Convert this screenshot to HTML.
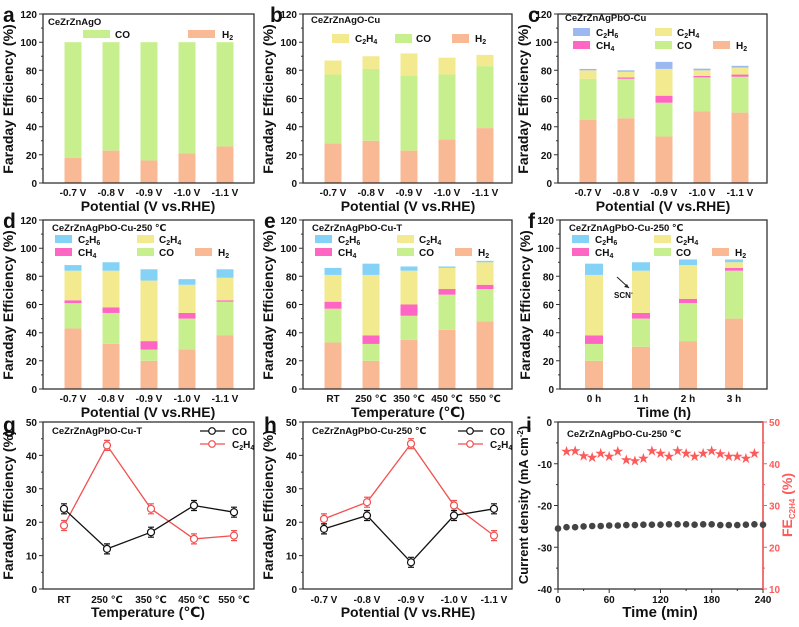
<!DOCTYPE html>
<html><head><meta charset="utf-8"><style>
body{margin:0;background:#fff}
text{font-family:"Liberation Sans","DejaVu Sans","Noto Sans CJK SC",sans-serif;font-weight:bold;fill:#111}
.t{font-size:10px}.lg{font-size:10px}.ti{font-size:9.5px}.ax{font-size:14px}.pl{font-size:21px}
.fr{fill:none;stroke:#333;stroke-width:1.3}
.H{fill:#f9b995}.C{fill:#c8ef8e}.E{fill:#f3e98e}.M{fill:#ff66c4}.S{fill:#84d2f6}.P{fill:#9cb8f0}
</style></head><body>
<svg width="799" height="622" viewBox="0 0 799 622" xmlns="http://www.w3.org/2000/svg">
<defs>
<g id="yt120">
<path d="M0 0H-4M0 -28.2H-4M0 -56.3H-4M0 -84.5H-4M0 -112.7H-4M0 -140.8H-4M0 -169H-4M0 -14.1H-2M0 -42.3H-2M0 -70.4H-2M0 -98.6H-2M0 -126.8H-2M0 -154.9H-2" stroke="#333" stroke-width="1"/>
<text class="t" x="-6" y="4" text-anchor="end">0</text>
<text class="t" x="-6" y="-24.2" text-anchor="end">20</text>
<text class="t" x="-6" y="-52.3" text-anchor="end">40</text>
<text class="t" x="-6" y="-80.5" text-anchor="end">60</text>
<text class="t" x="-6" y="-108.7" text-anchor="end">80</text>
<text class="t" x="-6" y="-136.8" text-anchor="end">100</text>
<text class="t" x="-6" y="-165" text-anchor="end">120</text>
<text class="ax" transform="translate(-30,-84) rotate(-90)" text-anchor="middle">Faraday Efficiency (%)</text>
</g>
<g id="pot">
<text class="t" x="30" y="13" text-anchor="middle">-0.7 V</text>
<text class="t" x="68" y="13" text-anchor="middle">-0.8 V</text>
<text class="t" x="106" y="13" text-anchor="middle">-0.9 V</text>
<text class="t" x="144" y="13" text-anchor="middle">-1.0 V</text>
<text class="t" x="182" y="13" text-anchor="middle">-1.1 V</text>
<text class="ax" x="105" y="28" text-anchor="middle">Potential (V vs.RHE)</text>
</g>
<g id="temp">
<text class="t" x="30" y="13" text-anchor="middle">RT</text>
<text class="t" x="68" y="13" text-anchor="middle">250 ℃</text>
<text class="t" x="106" y="13" text-anchor="middle">350 ℃</text>
<text class="t" x="144" y="13" text-anchor="middle">450 ℃</text>
<text class="t" x="182" y="13" text-anchor="middle">550 ℃</text>
<text class="ax" x="105" y="28" text-anchor="middle">Temperature (℃)</text>
</g>
<g id="leg5">
<rect x="12" y="0" width="17" height="8" class="S"/><text class="lg" x="35" y="8">C<tspan font-size="7" dy="2">2</tspan><tspan dy="-2">H</tspan><tspan font-size="7" dy="2">6</tspan></text>
<rect x="94" y="0" width="17" height="8" class="E"/><text class="lg" x="116" y="8">C<tspan font-size="7" dy="2">2</tspan><tspan dy="-2">H</tspan><tspan font-size="7" dy="2">4</tspan></text>
<rect x="12" y="13" width="17" height="8" class="M"/><text class="lg" x="35" y="21">CH<tspan font-size="7" dy="2">4</tspan></text>
<rect x="94" y="13" width="17" height="8" class="C"/><text class="lg" x="116" y="21">CO</text>
<rect x="152" y="13" width="17" height="8" class="H"/><text class="lg" x="175" y="21">H<tspan font-size="7" dy="2">2</tspan></text>
</g>
</defs>

<!-- a -->
<text class="pl" x="3" y="22">a</text>
<g transform="translate(43,183)">
<g transform="scale(1,-1.4083)">
<rect x="21.5" y="0" width="17" height="18" class="H"/><rect x="21.5" y="18" width="17" height="82" class="C"/>
<rect x="59.5" y="0" width="17" height="23" class="H"/><rect x="59.5" y="23" width="17" height="77" class="C"/>
<rect x="97.5" y="0" width="17" height="16" class="H"/><rect x="97.5" y="16" width="17" height="84" class="C"/>
<rect x="135.5" y="0" width="17" height="21" class="H"/><rect x="135.5" y="21" width="17" height="79" class="C"/>
<rect x="173.5" y="0" width="17" height="26" class="H"/><rect x="173.5" y="26" width="17" height="74" class="C"/>
</g>
<rect class="fr" x="0" y="-169" width="211" height="169"/>
<use href="#yt120"/><use href="#pot"/>
<text class="ti" x="5" y="-158">CeZrZnAgO</text>
<rect x="40" y="-153" width="27" height="8" class="C"/><text class="lg" x="72" y="-145">CO</text>
<rect x="145" y="-153" width="27" height="8" class="H"/><text class="lg" x="179" y="-145">H<tspan font-size="7" dy="2">2</tspan></text>
</g>

<!-- b -->
<text class="pl" x="270" y="22">b</text>
<g transform="translate(303,183)">
<g transform="scale(1,-1.4083)">
<rect x="21.5" y="0" width="17" height="28" class="H"/><rect x="21.5" y="28" width="17" height="49" class="C"/><rect x="21.5" y="77" width="17" height="10" class="E"/>
<rect x="59.5" y="0" width="17" height="30" class="H"/><rect x="59.5" y="30" width="17" height="51" class="C"/><rect x="59.5" y="81" width="17" height="9" class="E"/>
<rect x="97.5" y="0" width="17" height="23" class="H"/><rect x="97.5" y="23" width="17" height="53" class="C"/><rect x="97.5" y="76" width="17" height="16" class="E"/>
<rect x="135.5" y="0" width="17" height="31" class="H"/><rect x="135.5" y="31" width="17" height="46" class="C"/><rect x="135.5" y="77" width="17" height="12" class="E"/>
<rect x="173.5" y="0" width="17" height="39" class="H"/><rect x="173.5" y="39" width="17" height="44" class="C"/><rect x="173.5" y="83" width="17" height="8" class="E"/>
</g>
<rect class="fr" x="0" y="-169" width="209" height="169"/>
<use href="#yt120"/><use href="#pot"/>
<text class="ti" x="8" y="-160">CeZrZnAgO-Cu</text>
<rect x="29" y="-149" width="17" height="9" class="E"/><text class="lg" x="52" y="-141">C<tspan font-size="7" dy="2">2</tspan><tspan dy="-2">H</tspan><tspan font-size="7" dy="2">4</tspan></text>
<rect x="92" y="-149" width="17" height="9" class="C"/><text class="lg" x="113" y="-141">CO</text>
<rect x="149" y="-149" width="17" height="9" class="H"/><text class="lg" x="172" y="-141">H<tspan font-size="7" dy="2">2</tspan></text>
</g>

<!-- c -->
<text class="pl" x="528" y="22">c</text>
<g transform="translate(558,183)">
<g transform="scale(1,-1.4083)">
<rect x="21.5" y="0" width="17" height="45" class="H"/><rect x="21.5" y="45" width="17" height="29" class="C"/><rect x="21.5" y="74" width="17" height="6" class="E"/><rect x="21.5" y="80" width="17" height="1" class="P"/>
<rect x="59.5" y="0" width="17" height="46" class="H"/><rect x="59.5" y="46" width="17" height="28" class="C"/><rect x="59.5" y="74" width="17" height="1" class="M"/><rect x="59.5" y="75" width="17" height="4" class="E"/><rect x="59.5" y="79" width="17" height="1" class="P"/>
<rect x="97.5" y="0" width="17" height="33" class="H"/><rect x="97.5" y="33" width="17" height="24" class="C"/><rect x="97.5" y="57" width="17" height="5" class="M"/><rect x="97.5" y="62" width="17" height="19" class="E"/><rect x="97.5" y="81" width="17" height="5" class="P"/>
<rect x="135.5" y="0" width="17" height="51" class="H"/><rect x="135.5" y="51" width="17" height="24" class="C"/><rect x="135.5" y="75" width="17" height="1" class="M"/><rect x="135.5" y="76" width="17" height="4" class="E"/><rect x="135.5" y="80" width="17" height="1.2" class="P"/>
<rect x="173.5" y="0" width="17" height="50" class="H"/><rect x="173.5" y="50" width="17" height="25.5" class="C"/><rect x="173.5" y="75.5" width="17" height="1.5" class="M"/><rect x="173.5" y="77" width="17" height="5" class="E"/><rect x="173.5" y="82" width="17" height="1.2" class="P"/>
</g>
<rect class="fr" x="0" y="-169" width="209" height="169"/>
<use href="#yt120"/><use href="#pot"/>
<text class="ti" x="7" y="-162">CeZrZnAgPbO-Cu</text>
<g transform="translate(3,-155)"><use href="#leg5"/></g>
<rect x="15" y="-155" width="17" height="8" class="P"/>
</g>

<!-- d -->
<text class="pl" x="3" y="228">d</text>
<g transform="translate(43,389)">
<g transform="scale(1,-1.4083)">
<rect x="21.5" y="0" width="17" height="43" class="H"/><rect x="21.5" y="43" width="17" height="18" class="C"/><rect x="21.5" y="61" width="17" height="2" class="M"/><rect x="21.5" y="63" width="17" height="21" class="E"/><rect x="21.5" y="84" width="17" height="4" class="S"/>
<rect x="59.5" y="0" width="17" height="32" class="H"/><rect x="59.5" y="32" width="17" height="22" class="C"/><rect x="59.5" y="54" width="17" height="4" class="M"/><rect x="59.5" y="58" width="17" height="26" class="E"/><rect x="59.5" y="84" width="17" height="6" class="S"/>
<rect x="97.5" y="0" width="17" height="20" class="H"/><rect x="97.5" y="20" width="17" height="8" class="C"/><rect x="97.5" y="28" width="17" height="6" class="M"/><rect x="97.5" y="34" width="17" height="43" class="E"/><rect x="97.5" y="77" width="17" height="8" class="S"/>
<rect x="135.5" y="0" width="17" height="28" class="H"/><rect x="135.5" y="28" width="17" height="22" class="C"/><rect x="135.5" y="50" width="17" height="4" class="M"/><rect x="135.5" y="54" width="17" height="20" class="E"/><rect x="135.5" y="74" width="17" height="4" class="S"/>
<rect x="173.5" y="0" width="17" height="38" class="H"/><rect x="173.5" y="38" width="17" height="24" class="C"/><rect x="173.5" y="62" width="17" height="1" class="M"/><rect x="173.5" y="63" width="17" height="16" class="E"/><rect x="173.5" y="79" width="17" height="6" class="S"/>
</g>
<rect class="fr" x="0" y="-169" width="211" height="169"/>
<use href="#yt120"/><use href="#pot"/>
<text class="ti" x="9" y="-158">CeZrZnAgPbO-Cu-250 ℃</text>
<g transform="translate(0,-154)"><use href="#leg5"/></g>
</g>

<!-- e -->
<text class="pl" x="264" y="228">e</text>
<g transform="translate(303,389)">
<g transform="scale(1,-1.4083)">
<rect x="21.5" y="0" width="17" height="33" class="H"/><rect x="21.5" y="33" width="17" height="24" class="C"/><rect x="21.5" y="57" width="17" height="5" class="M"/><rect x="21.5" y="62" width="17" height="19" class="E"/><rect x="21.5" y="81" width="17" height="5" class="S"/>
<rect x="59.5" y="0" width="17" height="20" class="H"/><rect x="59.5" y="20" width="17" height="12" class="C"/><rect x="59.5" y="32" width="17" height="6" class="M"/><rect x="59.5" y="38" width="17" height="43" class="E"/><rect x="59.5" y="81" width="17" height="8" class="S"/>
<rect x="97.5" y="0" width="17" height="35" class="H"/><rect x="97.5" y="35" width="17" height="17" class="C"/><rect x="97.5" y="52" width="17" height="8" class="M"/><rect x="97.5" y="60" width="17" height="24" class="E"/><rect x="97.5" y="84" width="17" height="3" class="S"/>
<rect x="135.5" y="0" width="17" height="42" class="H"/><rect x="135.5" y="42" width="17" height="25" class="C"/><rect x="135.5" y="67" width="17" height="4" class="M"/><rect x="135.5" y="71" width="17" height="15" class="E"/><rect x="135.5" y="86" width="17" height="1" class="S"/>
<rect x="173.5" y="0" width="17" height="48" class="H"/><rect x="173.5" y="48" width="17" height="23" class="C"/><rect x="173.5" y="71" width="17" height="3" class="M"/><rect x="173.5" y="74" width="17" height="16" class="E"/><rect x="173.5" y="90" width="17" height="1" class="S"/>
</g>
<rect class="fr" x="0" y="-169" width="209" height="169"/>
<use href="#yt120"/><use href="#temp"/>
<text class="ti" x="9" y="-158">CeZrZnAgPbO-Cu-T</text>
<g transform="translate(0,-154)"><use href="#leg5"/></g>
</g>

<!-- f -->
<text class="pl" x="528" y="228">f</text>
<g transform="translate(560,389)">
<g transform="scale(1,-1.4083)">
<rect x="25" y="0" width="18" height="20" class="H"/><rect x="25" y="20" width="18" height="12" class="C"/><rect x="25" y="32" width="18" height="6" class="M"/><rect x="25" y="38" width="18" height="43" class="E"/><rect x="25" y="81" width="18" height="8" class="S"/>
<rect x="72" y="0" width="18" height="30" class="H"/><rect x="72" y="30" width="18" height="20" class="C"/><rect x="72" y="50" width="18" height="4" class="M"/><rect x="72" y="54" width="18" height="30" class="E"/><rect x="72" y="84" width="18" height="6" class="S"/>
<rect x="119" y="0" width="18" height="34" class="H"/><rect x="119" y="34" width="18" height="27" class="C"/><rect x="119" y="61" width="18" height="3" class="M"/><rect x="119" y="64" width="18" height="24" class="E"/><rect x="119" y="88" width="18" height="4" class="S"/>
<rect x="165" y="0" width="18" height="50" class="H"/><rect x="165" y="50" width="18" height="34" class="C"/><rect x="165" y="84" width="18" height="2" class="M"/><rect x="165" y="86" width="18" height="4" class="E"/><rect x="165" y="90" width="18" height="2" class="S"/>
</g>
<rect class="fr" x="0" y="-169" width="207" height="169"/>
<use href="#yt120"/>
<text class="t" x="34" y="13" text-anchor="middle">0 h</text>
<text class="t" x="81" y="13" text-anchor="middle">1 h</text>
<text class="t" x="128" y="13" text-anchor="middle">2 h</text>
<text class="t" x="174" y="13" text-anchor="middle">3 h</text>
<text class="ax" x="104" y="28" text-anchor="middle">Time (h)</text>
<text class="ti" x="9" y="-158">CeZrZnAgPbO-Cu-250 ℃</text>
<g transform="translate(0,-154)"><use href="#leg5"/></g>
<path d="M57 -112L69 -101" stroke="#222" stroke-width="1"/><path d="M69 -101l-5 -1l3 -3z" fill="#222"/>
<text x="54" y="-91" style="font-size:8px">SCN<tspan font-size="6" dy="-3">-</tspan></text>
</g>

<!-- g -->
<text class="pl" x="3" y="432">g</text>
<g transform="translate(43,589)">
<rect class="fr" x="0" y="-167" width="211" height="167"/>
<path d="M0 0H-4M0 -33.4H-4M0 -66.8H-4M0 -100.2H-4M0 -133.6H-4M0 -167H-4M0 -16.7H-2M0 -50.1H-2M0 -83.5H-2M0 -116.9H-2M0 -150.3H-2" stroke="#333"/>
<text class="t" x="-6" y="4" text-anchor="end">0</text><text class="t" x="-6" y="-29.4" text-anchor="end">10</text><text class="t" x="-6" y="-62.8" text-anchor="end">20</text><text class="t" x="-6" y="-96.2" text-anchor="end">30</text><text class="t" x="-6" y="-129.6" text-anchor="end">40</text><text class="t" x="-6" y="-163" text-anchor="end">50</text>
<text class="ax" transform="translate(-30,-84) rotate(-90)" text-anchor="middle">Faraday Efficiency (%)</text>
<text class="t" x="21" y="14" text-anchor="middle">RT</text><text class="t" x="64" y="14" text-anchor="middle">250 ℃</text><text class="t" x="108" y="14" text-anchor="middle">350 ℃</text><text class="t" x="151" y="14" text-anchor="middle">450 ℃</text><text class="t" x="191" y="14" text-anchor="middle">550 ℃</text>
<text class="ax" x="105" y="28" text-anchor="middle">Temperature (℃)</text>
<polyline points="21,-63.5 64,-143.6 108,-80.2 151,-50.1 191,-53.4" fill="none" stroke="#f25050" stroke-width="1.3"/>
<polyline points="21,-80.2 64,-40.1 108,-56.8 151,-83.5 191,-76.8" fill="none" stroke="#111" stroke-width="1.3"/>
<g stroke="#f25050" fill="#fff" stroke-width="1.2">
<path d="M21 -68.5v10M64 -148.6v10M108 -85.2v10M151 -55.1v10M191 -58.4v10M18 -68.5h6M18 -58.5h6M61 -148.6h6M61 -138.6h6M105 -85.2h6M105 -75.2h6M148 -55.1h6M148 -45.1h6M188 -58.4h6M188 -48.4h6"/>
<circle cx="21" cy="-63.5" r="3.5"/><circle cx="64" cy="-143.6" r="3.5"/><circle cx="108" cy="-80.2" r="3.5"/><circle cx="151" cy="-50.1" r="3.5"/><circle cx="191" cy="-53.4" r="3.5"/></g>
<g stroke="#111" fill="#fff" stroke-width="1.2">
<path d="M21 -85.2v10M64 -45.1v10M108 -61.8v10M151 -88.5v10M191 -81.8v10M18 -85.2h6M18 -75.2h6M61 -45.1h6M61 -35.1h6M105 -61.8h6M105 -51.8h6M148 -88.5h6M148 -78.5h6M188 -81.8h6M188 -71.8h6"/>
<circle cx="21" cy="-80.2" r="3.5"/><circle cx="64" cy="-40.1" r="3.5"/><circle cx="108" cy="-56.8" r="3.5"/><circle cx="151" cy="-83.5" r="3.5"/><circle cx="191" cy="-76.8" r="3.5"/></g>
<text class="ti" x="9" y="-155">CeZrZnAgPbO-Cu-T</text>
<path d="M157 -158h25" stroke="#111" stroke-width="1.3"/><circle cx="169" cy="-158" r="3.3" fill="#fff" stroke="#111" stroke-width="1.2"/><text class="lg" x="189" y="-154">CO</text>
<path d="M157 -145h25" stroke="#f25050" stroke-width="1.3"/><circle cx="169" cy="-145" r="3.3" fill="#fff" stroke="#f25050" stroke-width="1.2"/><text class="lg" x="189" y="-141">C<tspan font-size="7" dy="2">2</tspan><tspan dy="-2">H</tspan><tspan font-size="7" dy="2">4</tspan></text>
</g>

<!-- h -->
<text class="pl" x="264" y="432">h</text>
<g transform="translate(303,589)">
<rect class="fr" x="0" y="-167" width="209" height="167"/>
<path d="M0 0H-4M0 -33.4H-4M0 -66.8H-4M0 -100.2H-4M0 -133.6H-4M0 -167H-4M0 -16.7H-2M0 -50.1H-2M0 -83.5H-2M0 -116.9H-2M0 -150.3H-2" stroke="#333"/>
<text class="t" x="-6" y="4" text-anchor="end">0</text><text class="t" x="-6" y="-29.4" text-anchor="end">10</text><text class="t" x="-6" y="-62.8" text-anchor="end">20</text><text class="t" x="-6" y="-96.2" text-anchor="end">30</text><text class="t" x="-6" y="-129.6" text-anchor="end">40</text><text class="t" x="-6" y="-163" text-anchor="end">50</text>
<text class="ax" transform="translate(-30,-84) rotate(-90)" text-anchor="middle">Faraday Efficiency (%)</text>
<text class="t" x="21" y="14" text-anchor="middle">-0.7 V</text><text class="t" x="64" y="14" text-anchor="middle">-0.8 V</text><text class="t" x="108" y="14" text-anchor="middle">-0.9 V</text><text class="t" x="151" y="14" text-anchor="middle">-1.0 V</text><text class="t" x="191" y="14" text-anchor="middle">-1.1 V</text>
<text class="ax" x="105" y="28" text-anchor="middle">Potential (V vs.RHE)</text>
<polyline points="21,-70.1 64,-86.8 108,-145.3 151,-83.5 191,-53.4" fill="none" stroke="#f25050" stroke-width="1.3"/>
<polyline points="21,-60.1 64,-73.5 108,-26.7 151,-73.5 191,-80.2" fill="none" stroke="#111" stroke-width="1.3"/>
<g stroke="#f25050" fill="#fff" stroke-width="1.2">
<path d="M21 -75.1v10M64 -91.8v10M108 -150.3v10M151 -88.5v10M191 -58.4v10M18 -75.1h6M18 -65.1h6M61 -91.8h6M61 -81.8h6M105 -150.3h6M105 -140.3h6M148 -88.5h6M148 -78.5h6M188 -58.4h6M188 -48.4h6"/>
<circle cx="21" cy="-70.1" r="3.5"/><circle cx="64" cy="-86.8" r="3.5"/><circle cx="108" cy="-145.3" r="3.5"/><circle cx="151" cy="-83.5" r="3.5"/><circle cx="191" cy="-53.4" r="3.5"/></g>
<g stroke="#111" fill="#fff" stroke-width="1.2">
<path d="M21 -65.1v10M64 -78.5v10M108 -31.7v10M151 -78.5v10M191 -85.2v10M18 -65.1h6M18 -55.1h6M61 -78.5h6M61 -68.5h6M105 -31.7h6M105 -21.7h6M148 -78.5h6M148 -68.5h6M188 -85.2h6M188 -75.2h6"/>
<circle cx="21" cy="-60.1" r="3.5"/><circle cx="64" cy="-73.5" r="3.5"/><circle cx="108" cy="-26.7" r="3.5"/><circle cx="151" cy="-73.5" r="3.5"/><circle cx="191" cy="-80.2" r="3.5"/></g>
<text class="ti" x="9" y="-155">CeZrZnAgPbO-Cu-250 ℃</text>
<path d="M155 -158h25" stroke="#111" stroke-width="1.3"/><circle cx="167" cy="-158" r="3.3" fill="#fff" stroke="#111" stroke-width="1.2"/><text class="lg" x="187" y="-154">CO</text>
<path d="M155 -145h25" stroke="#f25050" stroke-width="1.3"/><circle cx="167" cy="-145" r="3.3" fill="#fff" stroke="#f25050" stroke-width="1.2"/><text class="lg" x="187" y="-141">C<tspan font-size="7" dy="2">2</tspan><tspan dy="-2">H</tspan><tspan font-size="7" dy="2">4</tspan></text>
</g>

<!-- i -->
<text class="pl" x="526" y="432">i</text>
<g transform="translate(558,589)">
<rect class="fr" x="0" y="-167" width="205" height="167"/>
<path d="M205 -167V0" stroke="#ff5a5a" stroke-width="1.5"/>
<path d="M0 0H-4M0 -41.75H-4M0 -83.5H-4M0 -125.25H-4M0 -167H-4M0 -20.9H-2M0 -62.6H-2M0 -104.4H-2M0 -146.1H-2M0 0V4M51.2 0V4M102.5 0V4M153.7 0V4M205 0V4M25.6 0V2M76.9 0V2M128.1 0V2M179.3 0V2" stroke="#333"/>
<path d="M205 0H209M205 -41.75H209M205 -83.5H209M205 -125.25H209M205 -167H209M205 -20.9H207M205 -62.6H207M205 -104.4H207M205 -146.1H207" stroke="#ff5a5a"/>
<text class="t" x="-6" y="4" text-anchor="end">-40</text><text class="t" x="-6" y="-37.75" text-anchor="end">-30</text><text class="t" x="-6" y="-79.5" text-anchor="end">-20</text><text class="t" x="-6" y="-121.25" text-anchor="end">-10</text><text class="t" x="-6" y="-163" text-anchor="end">0</text>
<text class="t" x="211" y="4" style="fill:#ff5a5a">10</text><text class="t" x="211" y="-37.75" style="fill:#ff5a5a">20</text><text class="t" x="211" y="-79.5" style="fill:#ff5a5a">30</text><text class="t" x="211" y="-121.25" style="fill:#ff5a5a">40</text><text class="t" x="211" y="-163" style="fill:#ff5a5a">50</text>
<text class="t" x="0" y="14" text-anchor="middle">0</text><text class="t" x="51.2" y="14" text-anchor="middle">60</text><text class="t" x="102.5" y="14" text-anchor="middle">120</text><text class="t" x="153.7" y="14" text-anchor="middle">180</text><text class="t" x="205" y="14" text-anchor="middle">240</text>
<text class="ax" x="102" y="28" text-anchor="middle" style="font-size:15px">Time (min)</text>
<text class="ax" transform="translate(-30,-84) rotate(-90)" text-anchor="middle" style="font-size:13px">Current density (mA cm<tspan font-size="8" dy="-5">-2</tspan><tspan dy="5">)</tspan></text>
<text class="ax" transform="translate(234,-84) rotate(-90)" text-anchor="middle" style="font-size:14px;fill:#ff5a5a">FE<tspan font-size="8" dy="3">C2H4</tspan><tspan dy="-3"> (%)</tspan></text>
<text class="ti" x="9" y="-152">CeZrZnAgPbO-Cu-250 ℃</text>
<g fill="#444">
<circle cx="0" cy="-60.5" r="3.3"/><circle cx="8.5" cy="-61.8" r="3.3"/><circle cx="17.1" cy="-61.8" r="3.3"/><circle cx="25.6" cy="-62.6" r="3.3"/><circle cx="34.2" cy="-63" r="3.3"/><circle cx="42.7" cy="-63" r="3.3"/><circle cx="51.2" cy="-63.5" r="3.3"/><circle cx="59.8" cy="-63.5" r="3.3"/><circle cx="68.3" cy="-63.9" r="3.3"/><circle cx="76.9" cy="-63.9" r="3.3"/><circle cx="85.4" cy="-64.3" r="3.3"/><circle cx="93.9" cy="-64.3" r="3.3"/><circle cx="102.5" cy="-64.3" r="3.3"/><circle cx="111" cy="-64.7" r="3.3"/><circle cx="119.6" cy="-64.7" r="3.3"/><circle cx="128.1" cy="-64.7" r="3.3"/><circle cx="136.6" cy="-64.3" r="3.3"/><circle cx="145.2" cy="-64.7" r="3.3"/><circle cx="153.7" cy="-64.7" r="3.3"/><circle cx="162.3" cy="-63.9" r="3.3"/><circle cx="170.8" cy="-63.9" r="3.3"/><circle cx="179.3" cy="-63.9" r="3.3"/><circle cx="187.9" cy="-64.3" r="3.3"/><circle cx="196.4" cy="-64.7" r="3.3"/><circle cx="205" cy="-64.3" r="3.3"/>
</g>
<g style="font-size:14px" text-anchor="middle">
<text x="8.5" y="-132.8" style="fill:#ff5a5a">★</text><text x="17.1" y="-133.6" style="fill:#ff5a5a">★</text><text x="25.6" y="-128.6" style="fill:#ff5a5a">★</text><text x="34.2" y="-126.9" style="fill:#ff5a5a">★</text><text x="42.7" y="-131.1" style="fill:#ff5a5a">★</text><text x="51.2" y="-127.8" style="fill:#ff5a5a">★</text><text x="59.8" y="-132.8" style="fill:#ff5a5a">★</text><text x="68.3" y="-124.4" style="fill:#ff5a5a">★</text><text x="76.9" y="-123.6" style="fill:#ff5a5a">★</text><text x="85.4" y="-126.1" style="fill:#ff5a5a">★</text><text x="93.9" y="-133.6" style="fill:#ff5a5a">★</text><text x="102.5" y="-131.1" style="fill:#ff5a5a">★</text><text x="111" y="-127.8" style="fill:#ff5a5a">★</text><text x="119.6" y="-133.6" style="fill:#ff5a5a">★</text><text x="128.1" y="-131.1" style="fill:#ff5a5a">★</text><text x="136.6" y="-127.8" style="fill:#ff5a5a">★</text><text x="145.2" y="-131.1" style="fill:#ff5a5a">★</text><text x="153.7" y="-133.6" style="fill:#ff5a5a">★</text><text x="162.3" y="-130.3" style="fill:#ff5a5a">★</text><text x="170.8" y="-127.8" style="fill:#ff5a5a">★</text><text x="179.3" y="-127.8" style="fill:#ff5a5a">★</text><text x="187.9" y="-126.1" style="fill:#ff5a5a">★</text><text x="196.4" y="-131.1" style="fill:#ff5a5a">★</text>
</g>
</g>
</svg>
</body></html>
